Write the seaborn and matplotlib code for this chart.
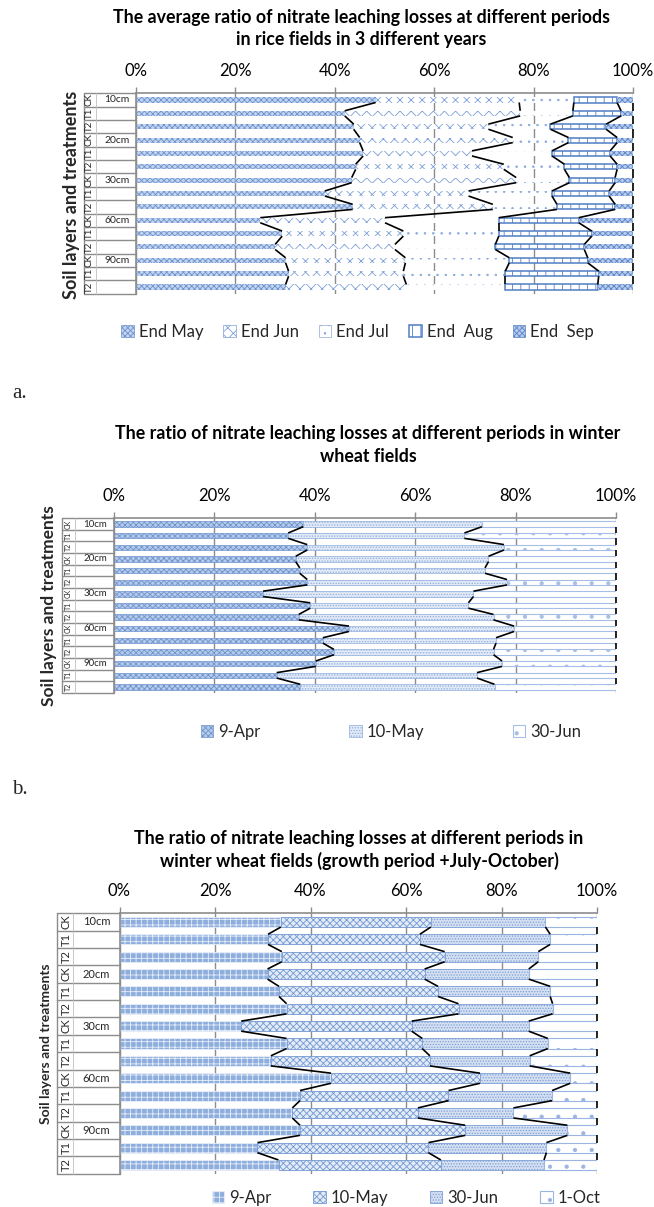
import numpy as np
import matplotlib
matplotlib.use("Agg")
import matplotlib.pyplot as plt
import matplotlib.transforms as mtransforms
from matplotlib.patches import Patch
import seaborn as sns

# ---------------- data ----------------
layers = ["10cm", "20cm", "30cm", "60cm", "90cm"]
treatments = ["CK", "T1", "T2"]

# (a) rice fields, share of leaching loss (%) per period, rows: 10cm CK,T1,T2, 20cm CK,... 90cm T2
rice_periods = ["End May", "End Jun", "End Jul", "End  Aug", "End  Sep"]
rice_end_may = [48.2, 42.0, 43.8, 45.0, 45.7, 44.2, 43.4, 38.0, 43.6, 25.0, 29.4, 28.0, 30.1, 30.7, 30.1]
rice_end_jun = [28.9, 35.3, 27.1, 30.8, 21.9, 29.8, 33.1, 28.9, 28.2, 25.1, 24.4, 24.1, 24.1, 23.1, 24.3]
rice_end_jul = [11.0, 10.6, 12.5, 11.2, 16.1, 12.2, 10.7, 16.8, 12.9, 22.9, 19.2, 20.2, 20.9, 20.5, 19.9]
rice_end_aug = [8.7, 9.7, 11.2, 9.8, 11.7, 10.6, 9.2, 11.5, 11.7, 16.1, 18.7, 17.9, 15.8, 18.8, 18.6]
rice_end_sep = [3.2, 2.4, 5.4, 3.2, 4.6, 3.2, 3.6, 4.8, 3.6, 10.9, 8.3, 9.8, 9.1, 6.9, 7.1]

# (b) winter wheat fields
wheat_periods = ["9-Apr", "10-May", "30-Jun"]
wheat_apr = [37.7, 34.7, 38.5, 36.2, 37.0, 38.5, 29.7, 39.1, 36.8, 46.8, 41.6, 43.8, 40.2, 32.4, 37.1]
wheat_may = [35.6, 35.1, 39.2, 38.4, 36.9, 39.8, 41.9, 31.5, 38.8, 32.9, 34.5, 31.8, 37.1, 39.9, 38.7]
wheat_jun = [26.7, 30.2, 22.3, 25.4, 26.1, 21.7, 28.4, 29.4, 24.4, 20.3, 23.9, 24.4, 22.7, 27.7, 24.2]

# (c) winter wheat fields, growth period + July-October
wheat2_periods = ["9-Apr", "10-May", "30-Jun", "1-Oct"]
wheat2_apr = [33.8, 31.1, 34.0, 31.0, 33.4, 35.0, 25.5, 35.0, 31.7, 44.3, 37.8, 36.2, 37.8, 28.9, 33.3]
wheat2_may = [31.4, 31.8, 34.1, 32.9, 33.3, 36.0, 35.7, 28.4, 33.3, 31.2, 31.1, 26.3, 34.6, 35.8, 34.0]
wheat2_jun = [24.0, 27.3, 19.6, 21.8, 23.5, 19.7, 24.5, 26.3, 20.9, 18.9, 21.7, 20.0, 21.4, 24.7, 21.6]
wheat2_oct = [10.8, 9.8, 12.3, 14.3, 9.8, 9.3, 14.3, 10.3, 14.1, 5.6, 9.4, 17.5, 6.2, 10.6, 11.1]

x_ticks = [0, 20, 40, 60, 80, 100]
x_tick_labels = ["0%", "20%", "40%", "60%", "80%", "100%"]

title_a = ["The average ratio of nitrate leaching losses at different periods",
           "in rice fields in 3 different years"]
title_b = ["The ratio of nitrate leaching losses at different periods in winter",
           "wheat fields"]
title_c = ["The ratio of nitrate leaching losses at different periods in",
           "winter wheat fields (growth period +July-October)"]
ylabel = "Soil layers and treatments"

# ---------------- style ----------------
sns.set_style("white")
plt.rcParams["font.family"] = ["Lato", "DejaVu Sans"]
plt.rcParams["hatch.linewidth"] = 0.6

W, H = 654, 1207
fig = plt.figure(figsize=(W / 100, H / 100), dpi=100)


def fx(px):
    return px / W


def fy(py):
    return 1 - py / H


GRID = "#8c8c8c"

styles_a = [
    dict(fc="#c3d4ef", ec="#6d93cf", lw=0, hatch="xxxxxx"),
    dict(fc="white", ec="#7ea0d8", lw=0, hatch="xxx"),
    dict(fc="white", ec="#8eabdc", lw=0, hatch=".."),
    dict(fc="white", ec="#4f7fc4", lw=1.1, hatch="||"),
    dict(fc="#b7cbec", ec="#5b85c8", lw=0, hatch="xxxxxx"),
]
styles_b = [
    dict(fc="#b6cae9", ec="#6e94cf", lw=0.5, hatch="xxxxxx"),
    dict(fc="#e2eaf6", ec="#8fadde", lw=0.5, hatch="......"),
    dict(fc="white", ec="#a7bfe6", lw=0.8, hatch="."),
]
styles_c = [
    dict(fc="#8eaedd", ec="#e8eef9", lw=0.6, hatch="+++"),
    dict(fc="#e3ebf7", ec="#7399d2", lw=0.6, hatch="xxxxx"),
    dict(fc="#d4e0f2", ec="#7d9fd6", lw=0.6, hatch="......"),
    dict(fc="white", ec="#9bb5e2", lw=0.8, hatch="."),
]


def draw_panel(rect, periods, values, styles, bar_w, lab, fs_treat, fs_layer):
    x0, x1, ytop, ybot = rect
    ax = fig.add_axes([fx(x0), fy(ybot), (x1 - x0) / W, (ybot - ytop) / H])
    cats = [f"{l} {t}" for l in layers for t in treatments]
    vals = np.array(values, dtype=float)
    n = len(cats)
    left = np.zeros(n)
    for k in range(len(periods)):
        st = styles[k]
        sns.barplot(x=vals[k], y=cats, orient="h", left=left.copy(), width=bar_w,
                    ax=ax, color=st["fc"], saturation=1, edgecolor=st["ec"],
                    linewidth=st["lw"], hatch=st["hatch"], errorbar=None, zorder=2)
        left = left + vals[k]

    # series lines
    cum = np.cumsum(vals, axis=0)
    for k in range(cum.shape[0]):
        for i in range(n - 1):
            ax.plot([cum[k, i], cum[k, i + 1]], [i + bar_w / 2, i + 1 - bar_w / 2],
                    color="black", lw=1.2, zorder=4, clip_on=False,
                    solid_capstyle="butt")

    ax.set_xlim(0, 100)
    ax.set_ylim(n - 0.5, -0.5)
    ax.xaxis.tick_top()
    ax.set_xticks(x_ticks)
    ax.set_xticklabels(x_tick_labels)
    ax.set_yticks([])
    ax.set_xlabel("")
    ax.set_ylabel("")
    ax.tick_params(axis="x", top=True, bottom=False, length=4.5, width=1,
                   color=GRID, pad=6, labelsize=12, labelcolor="black")
    ax.set_axisbelow(True)
    ax.grid(axis="x", color=GRID, lw=1)
    ax.grid(axis="y", visible=False)
    ax.spines["right"].set_visible(False)
    ax.spines["bottom"].set_visible(False)
    for s in ["top", "left"]:
        ax.spines[s].set_color(GRID)
        ax.spines[s].set_linewidth(1.2)
        ax.spines[s].set_zorder(5)

    # nested category labels
    tr = mtransforms.blended_transform_factory(fig.transFigure, ax.transData)
    for i in range(n + 1):
        ax.plot([fx(lab["box"]), fx(x0)], [i - 0.5, i - 0.5], transform=tr,
                color=GRID, lw=1, clip_on=False)
    ax.plot([fx(lab["box"]), fx(lab["box"])], [-0.5, n - 0.5], transform=tr,
            color=GRID, lw=1, clip_on=False)
    ax.plot([fx(lab["sep"]), fx(lab["sep"])], [-0.5, n - 0.5], transform=tr,
            color="#bfbfbf", lw=0.6, clip_on=False)
    for i, c in enumerate(cats):
        layer, treat = c.split()
        ax.text(fx(lab["treat"]), i, treat, rotation=90, ha="center", va="center",
                fontsize=fs_treat, transform=tr, color="#262626")
        if treat == "CK":
            ax.text(fx(lab["layer"]), i, layer, ha="center", va="center",
                    fontsize=fs_layer, transform=tr, color="#262626")
    return ax


# ---- panel a ----
ax_a = draw_panel((136, 633, 93.3, 293.7), rice_periods,
                  [rice_end_may, rice_end_jun, rice_end_jul, rice_end_aug, rice_end_sep],
                  styles_a, 0.38, dict(box=83.5, sep=95.5, treat=89.5, layer=117),
                  7, 7.5)
# ---- panel b ----
ax_b = draw_panel((114, 616, 518.2, 692.8), wheat_periods,
                  [wheat_apr, wheat_may, wheat_jun],
                  styles_b, 0.46, dict(box=62, sep=74.5, treat=68.5, layer=95.5),
                  5, 7)
# ---- panel c ----
ax_c = draw_panel((119.5, 597, 913.3, 1173.7), wheat2_periods,
                  [wheat2_apr, wheat2_may, wheat2_jun, wheat2_oct],
                  styles_c, 0.58, dict(box=56.7, sep=72.5, treat=66, layer=96.5),
                  8, 8)

# titles
for lines, xc, ys in [(title_a, 361.5, (17, 40)), (title_b, 368, (433.3, 456.7)),
                      (title_c, 359, (838.3, 861))]:
    for txt, yy in zip(lines, ys):
        fig.text(fx(xc), fy(yy), txt, ha="center", va="center", fontsize=12.8,
                 fontweight="bold", color="black")

# y labels
fig.text(fx(72), fy(195), ylabel, rotation=90, ha="center", va="center",
         fontsize=13, fontweight="bold")
fig.text(fx(49.5), fy(605.5), ylabel, rotation=90, ha="center", va="center",
         fontsize=12.5, fontweight="bold")
fig.text(fx(46), fy(1043.5), ylabel, rotation=90, ha="center", va="center",
         fontsize=10, fontweight="bold")

# panel letters
fig.text(fx(12), fy(393), "a.", ha="left", va="center", fontsize=15,
         family=["Liberation Serif", "DejaVu Serif"])
fig.text(fx(12), fy(790), "b.", ha="left", va="center", fontsize=15,
         family=["Liberation Serif", "DejaVu Serif"])


def legend_for(periods, styles, xc, yc, colsp):
    handles = [Patch(facecolor=st["fc"], edgecolor=st["ec"], hatch=st["hatch"],
                     linewidth=max(st["lw"], 0.5)) for st in styles]
    fig.legend(handles, periods, loc="center", bbox_to_anchor=(fx(xc), fy(yc)),
               ncol=len(periods), frameon=False, fontsize=12, handlelength=0.75,
               handleheight=0.75, handletextpad=0.3, columnspacing=colsp,
               borderaxespad=0, borderpad=0)


legend_for(rice_periods, styles_a, 357.5, 332, 1.2)
legend_for(wheat_periods, styles_b, 391, 731.7, 5.3)
legend_for(wheat2_periods, styles_c, 406, 1198, 2.5)

fig.savefig("out.png", dpi=100)
